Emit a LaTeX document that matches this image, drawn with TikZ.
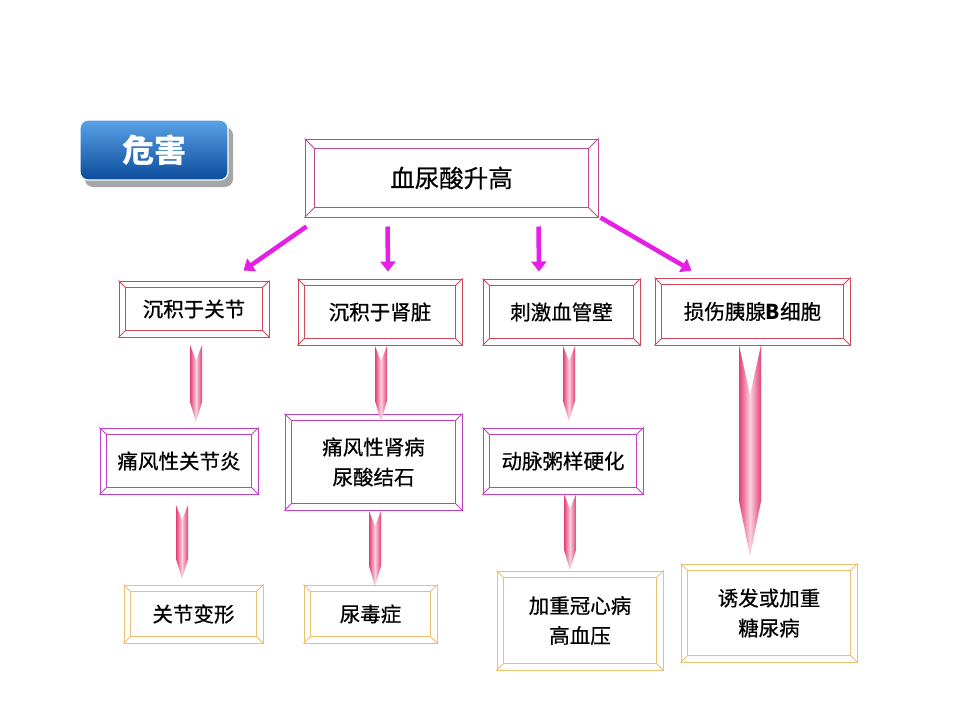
\documentclass[tikz,border=0pt]{standalone}
\usepackage{fontspec}
\setmainfont{Noto Sans CJK SC}[FakeBold=0.6]
\newfontfamily\titlefont{Noto Sans CJK SC}
\usetikzlibrary{calc,arrows.meta,shadows}
\definecolor{topc}{HTML}{C04890}
\definecolor{rowa}{HTML}{D04858}
\definecolor{rowb}{HTML}{C040C8}
\definecolor{rowc}{HTML}{E8C070}
\definecolor{magc}{HTML}{E61EE6}
\definecolor{pinkedge}{HTML}{E44076}
\definecolor{pinkmid}{HTML}{FAD0DE}
\definecolor{btop}{HTML}{5AA2E6}
\definecolor{bbot}{HTML}{0B4C9C}
\newcommand\bevbox[8]{% name, cx, cy, w, h, color, inset, text
  \node[draw=#6, line width=1pt, fill=white, minimum width=#4, minimum height=#5,
        align=center, font=\fontsize{20.5}{30}\selectfont, inner sep=0pt] (#1) at (#2,#3) {#8};
  \draw[#6, line width=0.8pt] ($(#1.north west)+(#7,#7)$) rectangle ($(#1.south east)+(-#7,-#7)$);
  \draw[#6, line width=0.8pt] (#1.north west) -- ++(#7,#7)
        (#1.north east) -- ++(-#7,#7)
        (#1.south west) -- ++(#7,-#7)
        (#1.south east) -- ++(-#7,-#7);
}
\newcommand\pinkarr[6]{% x, ytop, ybot, halfw, notch, tip
  \path[left color=pinkedge, right color=pinkedge, middle color=pinkmid]
    (#1-#4,#2) -- (#1,#2+#5) -- (#1+#4,#2) -- (#1+#4,#3-#6) -- (#1,#3) -- (#1-#4,#3-#6) -- cycle;
}
\tikzset{magarrow/.style={magc, line width=4.5pt, -{Triangle[length=10pt,width=15pt]}}}
\begin{document}
\begin{tikzpicture}[x=1pt,y=-1pt]
\useasboundingbox (0,0) rectangle (960,720);
\fill[white] (0,0) rectangle (960,720);
% title button
\fill[gray!70, rounded corners=8pt] (85,127) rectangle (233,187);
\node[rounded corners=8pt, top color=btop, bottom color=bbot, draw=white, line width=1.2pt,
      minimum width=148, minimum height=60, inner sep=0pt,
      text=white, font=\titlefont\fontsize{32}{34}\selectfont\bfseries] (title) at (154,150) {危害};
% boxes
\bevbox{top}{451.5}{178}{293}{78}{topc}{10}{\fontsize{24.5}{30}\selectfont 血尿酸升高}
\bevbox{ra}{194}{309}{150}{56}{rowa}{7}{沉积于关节}
\bevbox{rb}{380}{312}{164}{66}{rowa}{7}{沉积于肾脏}
\bevbox{rc}{561.5}{312}{157}{66}{rowa}{7}{刺激血管壁}
\bevbox{rd}{752.5}{311.5}{195}{67}{rowa}{7}{损伤胰腺{\titlefont\bfseries B}细胞}
\bevbox{sa}{179}{461}{158}{66}{rowb}{7}{痛风性关节炎}
\bevbox{sb}{373.5}{462}{177}{96}{rowb}{7}{痛风性肾病\\尿酸结石}
\bevbox{sc}{563}{461}{160}{66}{rowb}{7}{动脉粥样硬化}
\bevbox{ta}{193.5}{614}{139}{58}{rowc}{7}{关节变形}
\bevbox{tb}{370.5}{614}{133}{58}{rowc}{7}{尿毒症}
\bevbox{tc}{580}{620.5}{166}{99}{rowc}{7}{加重冠心病\\高血压}
\bevbox{td}{769}{613}{176}{98}{rowc}{7}{诱发或加重\\糖尿病}
% magenta arrows
\draw[magarrow] ($(top.south west)+(2,9)$) -- ($(ra.north east)+(-26,-10)$);
\draw[magarrow] ($(top.south west)+(83,9)$) -- ($(rb.north)+(8,-7)$);
\draw[magarrow] ($(top.south west)+(234,9)$) -- ($(rc.north)+(-22.5,-7)$);
\draw[magarrow] ($(top.south east)+(2,0)$) -- ($(rd.north west)+(37,-7)$);
% pink arrows
\pinkarr{196}{345}{422}{6}{15}{20}
\pinkarr{381}{346}{421}{6}{15}{20}
\pinkarr{569}{346}{421}{6}{15}{20}
\pinkarr{750}{345}{556}{11}{50}{55}
\pinkarr{182}{505}{579}{6}{15}{20}
\pinkarr{375}{511}{586}{6}{15}{20}
\pinkarr{570}{494}{570}{6}{15}{20}
\end{tikzpicture}
\end{document}
